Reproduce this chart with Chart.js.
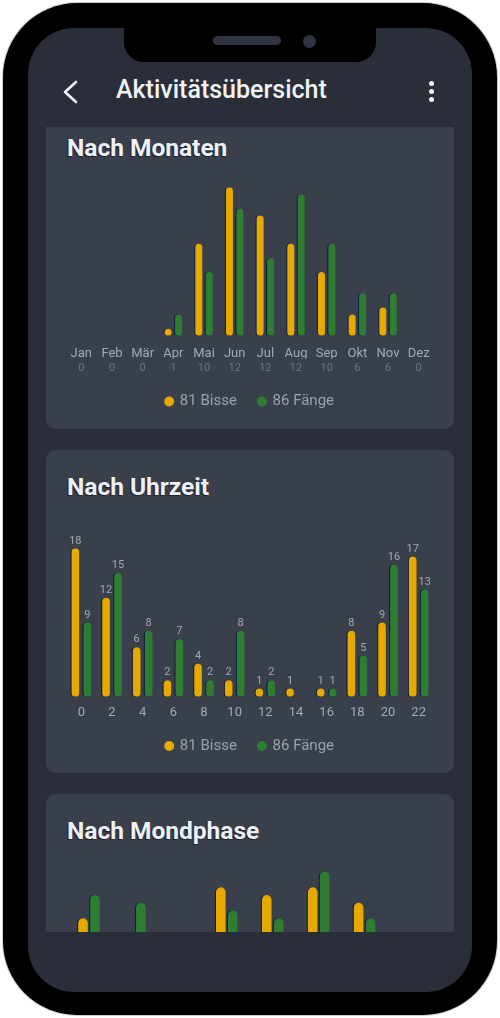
<!DOCTYPE html>
<html lang="de">
<head>
<meta charset="utf-8">
<title>Aktivitätsübersicht</title>
<script src="https://cdn.jsdelivr.net/npm/chart.js@4.4.1/dist/chart.umd.min.js"></script>
<style>
  html, body { margin: 0; padding: 0; width: 500px; height: 1018px; overflow: hidden; background: #fff; font-family: Roboto, "Noto Sans", sans-serif; }
  .phone { position: absolute; left: 3px; top: 3px; width: 494px; height: 1012px; background: #000; border-radius: 74px; box-shadow: 0 0 0 1px #cfcfcf; }
  .screen { position: absolute; left: 28px; top: 28px; width: 444px; height: 964px; background: #2a2e39; border-radius: 46px; }
  .notch { position: absolute; left: 124px; top: 28px; width: 252px; height: 34px; background: #000; border-radius: 0 0 20px 20px; }
  .speaker { position: absolute; left: 213px; top: 36px; width: 68px; height: 9px; background: #2f3441; border-radius: 5px; }
  .camera { position: absolute; left: 303px; top: 35px; width: 13px; height: 13px; background: #2f3441; border-radius: 50%; }
  .back { position: absolute; left: 60px; top: 78px; }
  .title { position: absolute; left: 116px; top: 75px; font-size: 25px; font-weight: 500; line-height: 30px; color: #f1f2f5; }
  .dot { position: absolute; left: 429px; width: 5.4px; height: 5.4px; background: #f1f2f5; border-radius: 50%; }
  .content { position: absolute; left: 46px; top: 127px; width: 408px; height: 805px; overflow: hidden; }
  .card { position: absolute; left: 0; width: 408px; background: #3a404b; border-radius: 10px; }
  .card h2 { position: absolute; left: 21px; top: 23px; margin: 0; font-size: 24.5px; font-weight: 700; line-height: 28px; color: #eef0f3; text-shadow: -1px 1px 1px rgba(5, 12, 30, 0.6); }
  .box { position: absolute; left: 0; top: 56px; width: 408px; }
</style>
</head>
<body>
<div class="phone"></div>
<div class="screen"></div>
<div class="notch"></div>
<div class="speaker"></div>
<div class="camera"></div>

<svg class="back" width="22" height="28" viewBox="0 0 22 28">
  <polyline points="16,4 5,14 16,24" fill="none" stroke="#f1f2f5" stroke-width="2.6" stroke-linecap="round" stroke-linejoin="round"/>
</svg>
<div class="title">Aktivitätsübersicht</div>
<div class="dot" style="top:81px"></div>
<div class="dot" style="top:89px"></div>
<div class="dot" style="top:97px"></div>

<div class="content">
  <div class="card" style="top:-16px;height:318px">
    <h2>Nach Monaten</h2>
    <div class="box" style="height:262px"><canvas id="monthChart"></canvas></div>
  </div>
  <div class="card" style="top:323px;height:323px">
    <h2>Nach Uhrzeit</h2>
    <div class="box" style="height:267px"><canvas id="hourChart"></canvas></div>
  </div>
  <div class="card" style="top:667px;height:320px">
    <h2>Nach Mondphase</h2>
    <div class="box" style="height:255px"><canvas id="moonChart"></canvas></div>
  </div>
</div>

<script>
const monthLabels = ["Jan", "Feb", "Mär", "Apr", "Mai", "Jun", "Jul", "Aug", "Sep", "Okt", "Nov", "Dez"];
const monthTrips = ["0", "0", "0", "1", "10", "12", "12", "12", "10", "6", "6", "0"];
const monthBites = [0, 0, 0, 1, 13, 21, 17, 13, 9, 3, 4, 0];
const monthCatches = [0, 0, 0, 3, 9, 18, 11, 20, 13, 6, 6, 0];

const hourLabels = ["0", "2", "4", "6", "8", "10", "12", "14", "16", "18", "20", "22"];
const hourBites = [18, 12, 6, 2, 4, 2, 1, 1, 1, 8, 9, 17];
const hourCatches = [9, 15, 8, 7, 2, 8, 2, 0, 1, 5, 16, 13];

const moonLabels = ["Neumond", "Zun. Sichel", "Erstes Viertel", "Zun. Mond", "Vollmond", "Abn. Mond", "Letztes Viertel", "Abn. Sichel"];
const moonTrips = ["9", "6", "3", "10", "9", "11", "8", "3"];
const moonBites = [12, 3, 2, 16, 15, 16, 14, 3];
const moonCatches = [15, 14, 1, 13, 12, 18, 12, 1];

const YELLOW = "#e7a800";
const GREEN = "#2e7d32";
const TICK = "#a3a8b2";
const SUB = "#6d737e";

const total = arr => arr.reduce((s, v) => s + v, 0);

// thin dark edge on the left of each bar, like the screenshot
const barShadow = {
  id: "barShadow",
  beforeDatasetsDraw(chart) {
    const ctx = chart.ctx;
    ctx.save();
    ctx.shadowColor = "rgba(6, 24, 64, 0.9)";
    ctx.shadowOffsetX = -1;
    ctx.shadowOffsetY = 0;
    ctx.shadowBlur = 0;
  },
  afterDatasetsDraw(chart) {
    chart.ctx.restore();
  }
};

// value above each bar (hour chart only)
const valueLabels = {
  id: "valueLabels",
  afterDatasetsDraw(chart) {
    const ctx = chart.ctx;
    ctx.save();
    ctx.font = "11px Roboto, sans-serif";
    ctx.fillStyle = TICK;
    ctx.textAlign = "center";
    ctx.textBaseline = "middle";
    chart.data.datasets.forEach((ds, i) => {
      chart.getDatasetMeta(i).data.forEach((bar, j) => {
        const v = ds.data[j];
        if (v > 0) ctx.fillText(String(v), bar.x, bar.y - 7.5);
      });
    });
    ctx.restore();
  }
};

function legendOpts() {
  return {
    position: "bottom",
    labels: {
      usePointStyle: true,
      pointStyle: "circle",
      boxWidth: 6.4,
      boxHeight: 7.07,
      padding: 21.8,
      color: "#9ba1ab",
      font: { family: "Roboto", size: 15 }
    }
  };
}

function datasets(bites, catches, thick) {
  return [
    { label: total(bites) + " Bisse", data: bites, backgroundColor: YELLOW, borderWidth: 0, borderRadius: 20, borderSkipped: false, maxBarThickness: thick, barPercentage: 1 },
    { label: total(catches) + " Fänge", data: catches, backgroundColor: GREEN, borderWidth: 0, borderRadius: 20, borderSkipped: false, maxBarThickness: thick, barPercentage: 1 }
  ];
}

function twoRowChart(id, labels, subLabels, bites, catches, thick, catPct, padTop) {
  return new Chart(document.getElementById(id), {
    type: "bar",
    data: { labels, datasets: datasets(bites, catches, thick) },
    options: {
      responsive: true,
      maintainAspectRatio: false,
      animation: false,
      categoryPercentage: catPct,
      layout: { padding: { top: padTop, bottom: 10, left: 20, right: 20 } },
      plugins: { legend: legendOpts(), tooltip: { enabled: false } },
      scales: {
        x: {
          grid: { display: false, drawTicks: false },
          border: { display: false },
          ticks: { color: TICK, font: { family: "Roboto", size: 13 }, padding: 10, autoSkip: false, maxRotation: 0 },
          afterFit: s => { s.height = 23; }
        },
        y: { display: false, min: 0, max: Math.max(...bites, ...catches) },
        x2: {
          type: "category",
          labels: subLabels,
          position: "bottom",
          offset: true,
          grid: { display: false, drawTicks: false },
          border: { display: false },
          ticks: { color: SUB, font: { family: "Roboto", size: 11 }, padding: 2.7, autoSkip: false, maxRotation: 0 },
          afterFit: s => { s.height = 13.5; }
        }
      }
    },
    plugins: [barShadow]
  });
}

twoRowChart("monthChart", monthLabels, monthTrips, monthBites, monthCatches, 7, 0.68, 20.3);

new Chart(document.getElementById("hourChart"), {
  type: "bar",
  data: { labels: hourLabels, datasets: datasets(hourBites, hourCatches, 7.6) },
  options: {
    responsive: true,
    maintainAspectRatio: false,
    animation: false,
    categoryPercentage: 0.78,
    layout: { padding: { top: 42.3, bottom: 9.5, left: 20, right: 20 } },
    plugins: { legend: legendOpts(), tooltip: { enabled: false } },
    scales: {
      x: {
        grid: { display: false, drawTicks: false },
        border: { display: false },
        ticks: { color: TICK, font: { family: "Roboto", size: 13 }, padding: 8, autoSkip: false, maxRotation: 0 },
        afterFit: s => { s.height = 20; }
      },
      y: { display: false, min: 0, max: Math.max(...hourBites, ...hourCatches) }
    }
  },
  plugins: [barShadow, valueLabels]
});

twoRowChart("moonChart", moonLabels, moonTrips, moonBites, moonCatches, 9.6, 0.52, 21.7);
</script>
</body>
</html>
